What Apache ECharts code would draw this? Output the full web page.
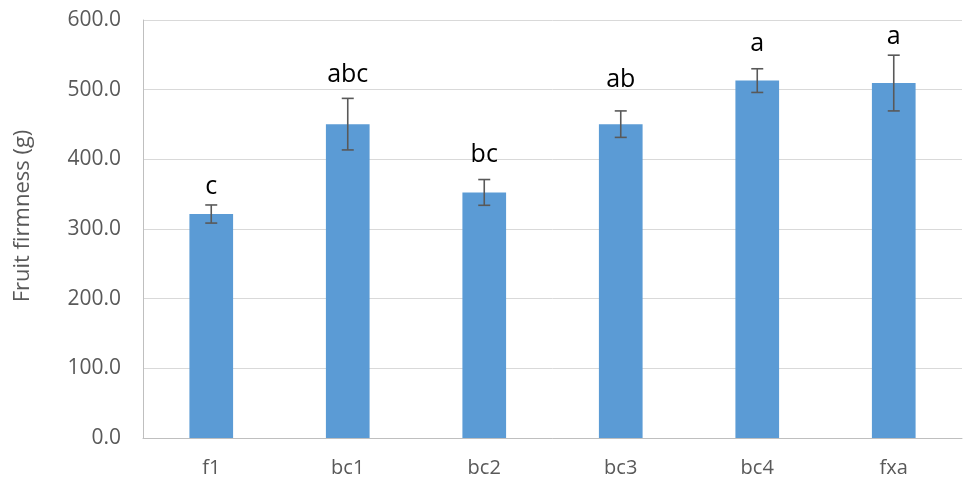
<!DOCTYPE html>
<html>
<head>
<meta charset="utf-8">
<script src="https://cdn.jsdelivr.net/npm/echarts@6/dist/echarts.min.js"></script>
<style>
  html, body { margin: 0; padding: 0; background: #ffffff; }
  #chart { width: 963px; height: 479px; }
</style>
</head>
<body>
<div id="chart"></div>
<script>
// Treatments and mean fruit firmness (g) with standard error
const categories = ['f1', 'bc1', 'bc2', 'bc3', 'bc4', 'fxa'];
const firmness = [321.5, 450.5, 352.5, 450.5, 513.0, 509.5];
const stdError = [13.0, 37.0, 18.5, 19.0, 17.0, 40.0];
// Significance letters (mean separation)
const letters = ['c', 'abc', 'bc', 'ab', 'a', 'a'];
const yTicks = { min: 0, max: 600, step: 100 };

// Height (in axis units) at which each letter sits
const letterAnchor = [360, 521, 406, 514, 566, 576];

const FONT = '"Open Sans", "Noto Sans", sans-serif';

const chart = echarts.init(document.getElementById('chart'));

chart.setOption({
  animation: false,
  backgroundColor: '#ffffff',
  grid: { left: 143, right: 1, top: 20, bottom: 41, containLabel: false },
  xAxis: {
    type: 'category',
    data: categories,
    axisLine: { show: true, lineStyle: { color: '#bfbfbf', width: 1 } },
    axisTick: { show: false },
    axisLabel: { color: '#595959', fontFamily: FONT, fontSize: 20, margin: 20 }
  },
  yAxis: {
    type: 'value',
    min: yTicks.min,
    max: yTicks.max,
    interval: yTicks.step,
    name: 'Fruit firmness (g)',
    nameLocation: 'middle',
    nameGap: 109,
    nameTextStyle: { color: '#595959', fontFamily: FONT, fontSize: 22, padding: [0, 0, 0, 26] },
    axisLine: { show: true, lineStyle: { color: '#bfbfbf', width: 1 } },
    axisTick: { show: false },
    splitLine: { lineStyle: { color: '#d9d9d9', width: 1 } },
    axisLabel: {
      color: '#595959', fontFamily: FONT, fontSize: 21, margin: 22,
      formatter: v => v.toFixed(1)
    }
  },
  series: [
    {
      type: 'bar',
      data: firmness,
      barWidth: '32%',
      itemStyle: { color: '#5b9bd5' }
    },
    {
      // error bars: vertical whisker with end caps
      type: 'custom',
      data: firmness.map((v, i) => [i, v - stdError[i], v + stdError[i]]),
      z: 5,
      renderItem: (params, api) => {
        const lo = api.coord([api.value(0), api.value(1)]);
        const hi = api.coord([api.value(0), api.value(2)]);
        const cap = 6;
        const style = { stroke: '#595959', lineWidth: 1.6 };
        return {
          type: 'group',
          children: [
            { type: 'line', shape: { x1: lo[0], y1: lo[1], x2: hi[0], y2: hi[1] }, style },
            { type: 'line', shape: { x1: hi[0] - cap, y1: hi[1], x2: hi[0] + cap, y2: hi[1] }, style },
            { type: 'line', shape: { x1: lo[0] - cap, y1: lo[1], x2: lo[0] + cap, y2: lo[1] }, style }
          ]
        };
      }
    },
    {
      // significance letters
      type: 'custom',
      data: letterAnchor.map((v, i) => [i, v]),
      z: 6,
      renderItem: (params, api) => {
        const p = api.coord([api.value(0), api.value(1)]);
        return {
          type: 'text',
          style: {
            x: p[0], y: p[1],
            text: letters[params.dataIndex],
            fill: '#000000',
            font: '25px ' + FONT,
            align: 'center',
            verticalAlign: 'middle'
          }
        };
      }
    }
  ]
});
</script>
</body>
</html>
